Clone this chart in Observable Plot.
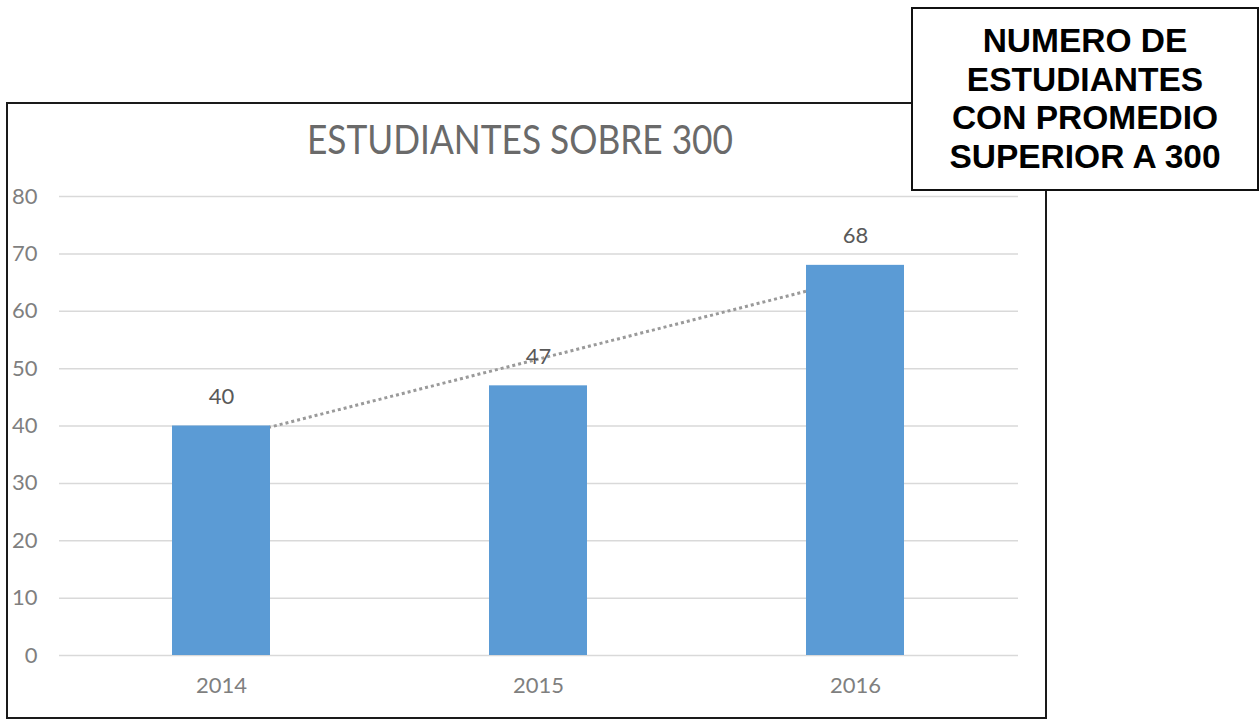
<!DOCTYPE html>
<html>
<head>
<meta charset="utf-8">
<script src="https://cdn.jsdelivr.net/npm/d3@7"></script>
<script src="https://cdn.jsdelivr.net/npm/@observablehq/plot@0.6"></script>
<style>
html, body { margin: 0; padding: 0; background: #fff; }
body { width: 1260px; height: 720px; overflow: hidden; position: relative; font-family: Lato, sans-serif; }
#chart { position: absolute; left: 0; top: 0; }
#frame { position: absolute; left: 6px; top: 102px; width: 1037px; height: 613px; border: 2px solid #1a1a1a; }
#title { position: absolute; left: 520px; top: 119px; white-space: nowrap; font: 400 40px Lato, sans-serif; line-height: 1; color: #6a6a6a; transform-origin: 0 0; }
#box { position: absolute; left: 911px; top: 7px; width: 344px; height: 180px; border: 2px solid #111; background: #fff;
       display: flex; align-items: center; justify-content: center; text-align: center;
       font: bold 33.5px "Liberation Sans", Arial, sans-serif; line-height: 38.5px; color: #000; }
</style>
</head>
<body>
<div id="frame"></div>
<div id="chart"></div>
<div id="title">ESTUDIANTES SOBRE 300</div>
<div id="box"><div>NUMERO DE<br>ESTUDIANTES<br>CON PROMEDIO<br>SUPERIOR A 300</div></div>
<script>
const years = ["2014", "2015", "2016"];
const values = [40, 47, 68];
const yTicks = [0, 10, 20, 30, 40, 50, 60, 70, 80];

const data = years.map((year, i) => ({year, value: values[i], i}));

// Linear trendline (least squares over category index)
const xs = values.map((_, i) => i);
const mx = d3.mean(xs), my = d3.mean(values);
const slope = d3.sum(xs, (x, i) => (x - mx) * (values[i] - my)) / d3.sum(xs, x => (x - mx) ** 2);
const trend = data.map(d => ({year: d.year, value: my + slope * (d.i - mx)}));

const chart = Plot.plot({
  width: 1260,
  height: 720,
  marginLeft: 59,
  marginRight: 242,
  marginTop: 196,
  marginBottom: 65,
  style: {fontFamily: "Lato, sans-serif", fontSize: "22px", background: "transparent", overflow: "visible"},
  x: {domain: years, paddingInner: 0.69, paddingOuter: 0.355, label: null},
  y: {domain: [0, 80], label: null},
  marks: [
    Plot.gridY(yTicks, {stroke: "#d9d9d9", strokeOpacity: 1, strokeWidth: 1.5}),
    Plot.axisY(yTicks, {tickSize: 0, tickPadding: 22, fontSize: 22, fill: "#7f7f7f", label: null}),
    Plot.axisX({tickSize: 0, tickPadding: 22, fontSize: 22, fill: "#7f7f7f", label: null}),
    Plot.line(trend, {x: "year", y: "value", stroke: "#9a9a9a", strokeWidth: 3, strokeDasharray: "3,3", strokeLinecap: "butt"}),
    Plot.barY(data, {x: "year", y: "value", fill: "#5b9bd5"}),
    Plot.text(data, {x: "year", y: "value", text: d => String(d.value), dy: -22, lineAnchor: "bottom", fontSize: 22, fill: "#595959"})
  ]
});
document.getElementById("chart").appendChild(chart);

// fit title width to reference (~426px), centered at x=520
const t = document.getElementById("title");
const w = t.getBoundingClientRect().width;
const s = 426 / w;
t.style.transform = `scaleX(${s}) translateX(${-w / 2}px)`;
</script>
</body>
</html>
